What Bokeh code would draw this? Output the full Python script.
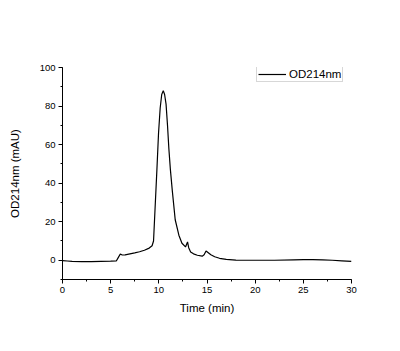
from bokeh.plotting import figure
from bokeh.models import Range1d, SingleIntervalTicker, Legend, LegendItem
from bokeh.embed import file_html
from bokeh.resources import INLINE

time_min = [0, 0.5, 1, 2, 3, 4, 5, 5.6, 5.8, 6.0, 6.2, 6.5, 7, 7.5, 8, 8.5, 9,
            9.3, 9.45, 9.62, 9.8, 9.97, 10.14, 10.3, 10.46, 10.6, 10.75, 10.9,
            11.04, 11.2, 11.4, 11.7, 12.08, 12.4, 12.77, 12.98, 13.1, 13.3,
            13.6, 14.0, 14.5, 14.7, 14.9, 15.1, 15.4, 15.8, 16.3, 17, 18, 20,
            22, 24, 25, 26, 27, 28, 29, 30]
od214 = [-0.2, -0.4, -0.6, -0.7, -0.7, -0.6, -0.5, -0.3, 1.5, 3.2, 2.7, 2.8,
         3.3, 3.8, 4.4, 5.2, 6.3, 7.5, 10, 28, 47, 66, 79, 86, 88, 86, 81, 70,
         58, 47, 36, 21, 13, 8.8, 6.9, 9.5, 6.5, 4.3, 3.3, 2.6, 2.1, 2.8, 4.8,
         4.0, 2.8, 1.8, 1.0, 0.4, 0.1, 0, 0, 0.2, 0.3, 0.3, 0.2, 0, -0.3, -0.6]

FONT = "Liberation Sans"

p = figure(width=400, height=351, output_backend="svg", toolbar_location=None,
           x_range=Range1d(0, 30), y_range=Range1d(-10, 100),
           min_border_left=62, min_border_right=49, min_border_top=67,
           min_border_bottom=72)
p.outline_line_color = None
p.grid.visible = False
p.background_fill_color = "white"
p.border_fill_color = "white"

r = p.line(time_min, od214, line_color="black", line_width=1.2)

p.xaxis.ticker = SingleIntervalTicker(interval=5, num_minor_ticks=2)
p.yaxis.ticker = SingleIntervalTicker(interval=20, num_minor_ticks=2)
for ax in (p.xaxis, p.yaxis):
    ax.axis_line_color = "black"
    ax.major_tick_line_color = "black"
    ax.minor_tick_line_color = "black"
    ax.major_tick_in = 0
    ax.major_tick_out = 4
    ax.minor_tick_in = 0
    ax.minor_tick_out = 2
    ax.major_label_text_font = FONT
    ax.major_label_text_font_size = "9.5px"
    ax.major_label_text_color = "black"
    ax.axis_label_text_font = FONT
    ax.axis_label_text_font_size = "11.5px"
    ax.axis_label_text_font_style = "normal"
    ax.axis_label_text_color = "black"
p.xaxis.axis_label = "Time (min)"
p.yaxis.axis_label = "OD214nm (mAU)"
p.xaxis.axis_label_standoff = 6
p.yaxis.axis_label_standoff = 16
p.xaxis.major_label_standoff = 3
p.yaxis.major_label_standoff = 3

legend = Legend(items=[LegendItem(label="OD214nm", renderers=[r])],
                location=(194, 197), padding=1, spacing=0, margin=0,
                glyph_width=28, glyph_height=12, label_height=12,
                label_standoff=3, label_text_font=FONT,
                label_text_font_size="11.5px", label_text_color="black",
                border_line_color="#b0b0b0", border_line_width=1,
                background_fill_color="white", background_fill_alpha=1)
p.add_layout(legend, "center")

open("out.html", "w").write(file_html(p, INLINE))
